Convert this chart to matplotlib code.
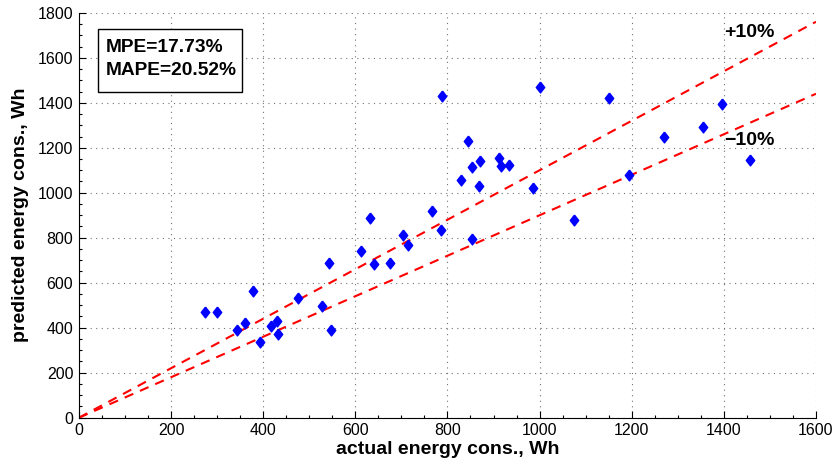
import matplotlib
matplotlib.use("Agg")
import matplotlib.pyplot as plt
from matplotlib.ticker import MultipleLocator
from matplotlib.patches import Rectangle

plt.rcParams['font.family'] = ['Liberation Sans', 'DejaVu Sans']

actual = [273, 300, 378, 343, 360, 394, 417, 430, 433, 475, 527, 548, 543, 613,
          640, 675, 632, 703, 715, 766, 785, 853, 788, 1000, 1151, 845, 854, 871,
          911, 917, 933, 829, 868, 986, 1193, 1074, 1395, 1355, 1270, 1457]
predicted = [470, 470, 564, 391, 422, 338, 406, 428, 372, 531, 495, 390, 686, 741,
             683, 687, 886, 813, 769, 917, 833, 796, 1431, 1471, 1422, 1230, 1113, 1141,
             1154, 1117, 1124, 1058, 1031, 1020, 1079, 879, 1393, 1291, 1249, 1144]
bound_factors = [1.1, 0.9]
bound_labels = ["+10%", "\u221210%"]
bound_label_y = [1712, 1232]
x_range = [0, 1600]
stats_lines = ["MPE=17.73%", "MAPE=20.52%"]

fig = plt.figure(figsize=(8.37, 4.66), dpi=100)
ax = fig.add_axes([0.0943, 0.1036, 0.8806, 0.869])

for f in bound_factors:
    ax.plot(x_range, [x_range[0] * f, x_range[1] * f], color=(1, 0, 0), lw=1.5,
            ls=(0, (4.5, 3.5)), zorder=2)

diamond = [(0, 1), (0.78, 0), (0, -1), (-0.78, 0), (0, 1)]
ax.plot(actual, predicted, ls='none', marker=diamond, ms=7.8, color=(0, 0, 1),
        mec=(0, 0, 1), zorder=3)

for lab, ly in zip(bound_labels, bound_label_y):
    ax.text(1400, ly, lab, fontsize=14, fontweight='bold', va='center', ha='left')

ax.add_patch(Rectangle((0.0255, 0.805), 0.196, 0.154, transform=ax.transAxes,
                       fc='white', ec='black', lw=1, zorder=4))
for line, yy in zip(stats_lines, [0.913, 0.858]):
    ax.text(0.036, yy, line, transform=ax.transAxes, fontsize=13.8,
            fontweight='bold', va='center', ha='left', zorder=5)

ax.set_xlim(0, 1600)
ax.set_ylim(0, 1800)
ax.xaxis.set_major_locator(MultipleLocator(200))
ax.yaxis.set_major_locator(MultipleLocator(200))
ax.xaxis.set_minor_locator(MultipleLocator(50))
ax.yaxis.set_minor_locator(MultipleLocator(50))
ax.grid(True, which='major', color='0.45', ls=(0, (1, 4)), lw=0.8)
ax.set_axisbelow(True)
ax.spines['top'].set_visible(False)
ax.spines['right'].set_visible(False)
ax.tick_params(which='both', direction='in', labelsize=11.5, pad=4, width=0.8)
ax.tick_params(which='major', length=5)
ax.tick_params(which='minor', length=2.5)

ax.set_xlabel("actual energy cons., Wh", fontsize=14, fontweight='bold', labelpad=2)
ax.set_ylabel("predicted energy cons., Wh", fontsize=14, fontweight='bold', labelpad=6)

fig.savefig("out.png", dpi=100)
